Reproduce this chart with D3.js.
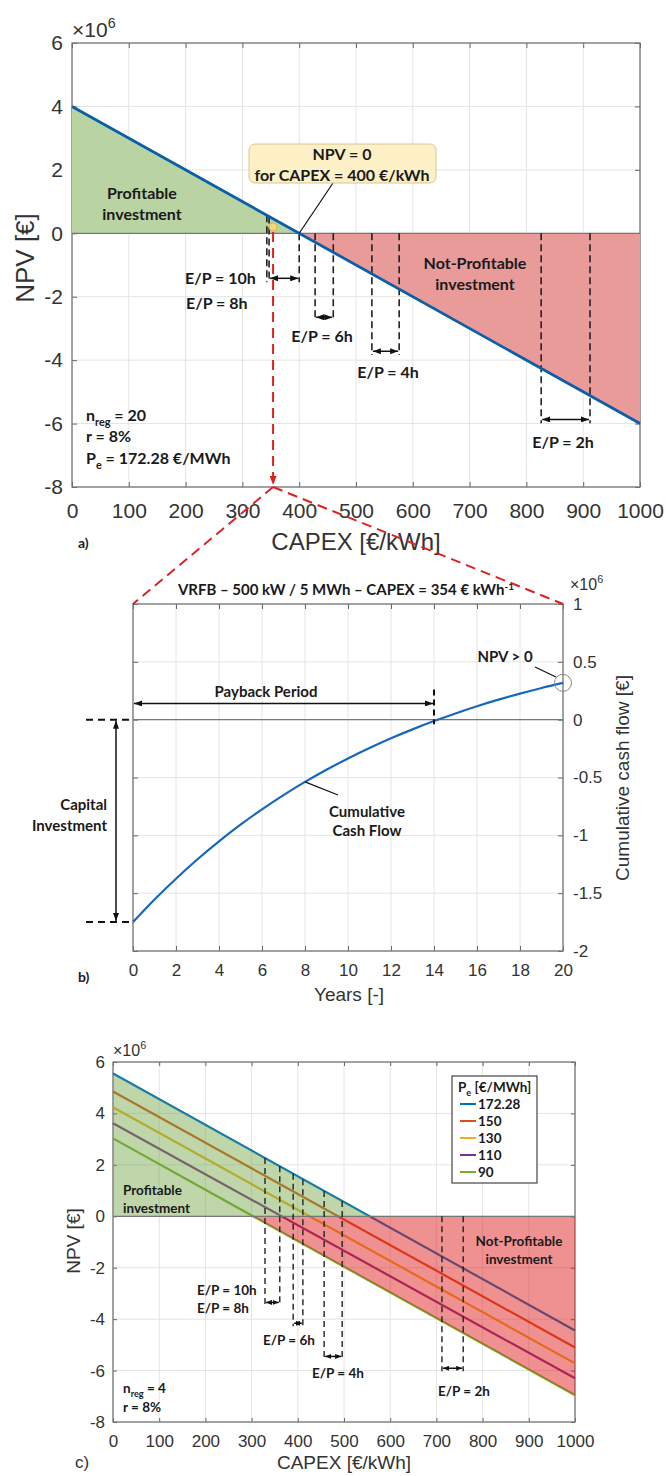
<!DOCTYPE html>
<html>
<head>
<meta charset="utf-8">
<script src="https://cdn.jsdelivr.net/npm/d3@7"></script>
<style>
  body { margin: 0; background: #fff; }
  svg { display: block; }
  .note { font-family: Lato, "Open Sans", sans-serif; font-weight: 700; fill: #1a1a1a; }
  .lab { font-family: "Liberation Sans", Arial, sans-serif; fill: #333; }
</style>
</head>
<body>
<svg id="fig" width="666" height="1476"></svg>
<script>
// ---- panel a: NPV vs CAPEX (x10^6 €)
const capexA = [0, 1000];
const npvA = [4, -6];
const capexTicks = [0, 100, 200, 300, 400, 500, 600, 700, 800, 900, 1000];
const npvTicks = [-8, -6, -4, -2, 0, 2, 4, 6];
const epLinesA = [343, 347, 400, 428, 460, 528, 576, 826, 912];
const epArrowsA = [[347, 400, -1.42], [428, 460, -2.65], [528, 576, -3.72], [826, 912, -5.87]];
const capexVRFB = 354;
const npvMarker = 0.2;

// ---- panel b: cumulative cash flow (x10^6 €)
const years = [0, 1, 2, 3, 4, 5, 6, 7, 8, 9, 10, 11, 12, 13, 14, 15, 16, 17, 18, 19, 20];
const cashFlow = [-1.75, -1.555, -1.375, -1.207, -1.052, -0.908, -0.775, -0.652, -0.538, -0.433, -0.335,
                  -0.245, -0.161, -0.084, -0.012, 0.054, 0.116, 0.173, 0.225, 0.274, 0.318];
const yearTicks = [0, 2, 4, 6, 8, 10, 12, 14, 16, 18, 20];
const cashTicks = [-2, -1.5, -1, -0.5, 0, 0.5, 1];
const paybackYear = 14;
const paybackLevel = 0.14;

// ---- panel c: NPV vs CAPEX for several electricity prices
const prices = ["172.28", "150", "130", "110", "90"];
const priceColors = ["#0072BD", "#D95319", "#EDB120", "#7E2F8E", "#77AC30"];
const npvAt0 = [5.55, 4.85, 4.24, 3.62, 3.03];
const npvAt1000 = [-4.44, -5.10, -5.72, -6.30, -6.96];
const epLinesC = [329, 361, 390, 411, 457, 496, 712, 758];
const epArrowsC = [[329, 361, -3.35], [390, 411, -4.16], [457, 496, -5.45], [712, 758, -5.91]];

const svg = d3.select("#fig");
const defs = svg.append("defs");
function marker(id, color, w, h) {
  defs.append("marker").attr("id", id)
    .attr("markerUnits", "userSpaceOnUse")
    .attr("markerWidth", w).attr("markerHeight", h)
    .attr("refX", w).attr("refY", h / 2)
    .attr("orient", "auto-start-reverse")
    .append("path").attr("d", `M0,0L${w},${h / 2}L0,${h}Z`).attr("fill", color);
}
marker("arr", "#111", 8, 6);
marker("arrS", "#111", 6, 5);
marker("arrR", "#e0201e", 9, 7);

// grid, box and inward ticks in the MATLAB style
function frame(g, x, y, xt, yt, o) {
  const [xl, xr] = x.range();
  const [yb, yt0] = y.range();
  g.append("g").selectAll("line").data(xt).join("line")
    .attr("x1", d => x(d)).attr("x2", d => x(d)).attr("y1", yt0).attr("y2", yb)
    .attr("stroke", "#e4e4e4");
  g.append("g").selectAll("line").data(yt).join("line")
    .attr("x1", xl).attr("x2", xr).attr("y1", d => y(d)).attr("y2", d => y(d))
    .attr("stroke", "#e4e4e4");

  const fmt = d => String(d);
  const axes = [
    [d3.axisBottom(x).tickValues(xt).tickPadding(o.padX).tickFormat(fmt), `translate(0,${yb})`],
    [d3.axisTop(x).tickValues(xt).tickFormat(""), `translate(0,${yt0})`],
    [d3.axisLeft(y).tickValues(yt).tickPadding(o.padY).tickFormat(o.right ? "" : fmt), `translate(${xl},0)`],
    [d3.axisRight(y).tickValues(yt).tickPadding(o.padY).tickFormat(o.right ? fmt : ""), `translate(${xr},0)`]
  ];
  axes.forEach(([ax, tr]) => {
    const a = g.append("g").attr("transform", tr)
      .call(ax.tickSizeInner(-o.tick).tickSizeOuter(0));
    a.select(".domain").remove();
    a.selectAll(".tick line").attr("stroke", "#666");
    a.attr("font-family", "Liberation Sans, Arial, sans-serif").attr("font-size", o.fs);
    a.selectAll("text").attr("fill", "#333");
  });
  g.append("rect").attr("x", xl).attr("y", yt0).attr("width", xr - xl).attr("height", yb - yt0)
    .attr("fill", "none").attr("stroke", "#777").attr("stroke-width", 1.3);
}

function expo(g, x, y, fs) {
  const t = g.append("text").attr("class", "lab").attr("x", x).attr("y", y).attr("font-size", fs);
  t.append("tspan").text("\u00d710");
  t.append("tspan").attr("dy", -fs * 0.42).attr("font-size", fs * 0.68).text("6");
}

function note(g, x, y, str, fs, anchor) {
  return g.append("text").attr("class", "note").attr("x", x).attr("y", y)
    .attr("font-size", fs).attr("text-anchor", anchor || "middle").text(str);
}

function sub(g, x, y, main, s, rest, fs) {
  const t = g.append("text").attr("class", "note").attr("x", x).attr("y", y).attr("font-size", fs);
  t.append("tspan").text(main);
  t.append("tspan").attr("dy", fs * 0.3).attr("font-size", fs * 0.68).text(s);
  t.append("tspan").attr("dy", -fs * 0.3).text(rest);
}

// zero crossing of a straight NPV line
function crossing(c, v) { return d3.scaleLinear().domain(v).range(c)(0); }

// dashed E/P guides and arrows
function epMarks(g, x, y, lineAt, linesX, arrows, o) {
  const nearest = cx => {
    const a = arrows.find(r => r[0] === cx || r[1] === cx);
    if (a) return a[2] - o.extra;
    const b = arrows.reduce((p, r) => Math.abs(r[0] - cx) < Math.abs(p[0] - cx) ? r : p);
    return b[2] - o.extra;
  };
  g.append("g").selectAll("line").data(linesX).join("line")
    .attr("x1", d => x(d)).attr("x2", d => x(d))
    .attr("y1", d => y(Math.max(lineAt(d), 0)))
    .attr("y2", d => y(nearest(d)))
    .attr("stroke", "#222").attr("stroke-width", o.w).attr("stroke-dasharray", o.dash);
  g.append("g").selectAll("line").data(arrows).join("line")
    .attr("x1", d => x(d[0]) + 1).attr("x2", d => x(d[1]) - 1)
    .attr("y1", d => y(d[2])).attr("y2", d => y(d[2]))
    .attr("stroke", "#111").attr("stroke-width", 1.5)
    .attr("marker-start", `url(#${o.m})`).attr("marker-end", `url(#${o.m})`);
}

// ================= panel a
const xA = d3.scaleLinear().domain([0, 1000]).range([72, 640]);
const yA = d3.scaleLinear().domain([-8, 6]).range([487, 43]);
const gA = svg.append("g");
frame(gA, xA, yA, capexTicks, npvTicks, { padX: 16, padY: 9, tick: 5, fs: 21 });

const lineA = d3.scaleLinear().domain(capexA).range(npvA);
const zeroA = crossing(capexA, npvA);
const ptsA = [capexA[0], zeroA, capexA[1]];
gA.append("path").datum(ptsA)
  .attr("d", d3.area().x(d => xA(d)).y0(yA(0)).y1(d => yA(Math.max(lineA(d), 0))))
  .attr("fill", "#b9d3a2");
gA.append("path").datum(ptsA)
  .attr("d", d3.area().x(d => xA(d)).y0(yA(0)).y1(d => yA(Math.min(lineA(d), 0))))
  .attr("fill", "#e99b9a");
gA.append("line").attr("x1", xA(0)).attr("x2", xA(1000)).attr("y1", yA(0)).attr("y2", yA(0))
  .attr("stroke", "#777").attr("stroke-width", 1.3);

epMarks(gA, xA, yA, lineA, epLinesA, epArrowsA,
  { extra: 0.12, w: 1.6, dash: "7,4", m: "arr" });

gA.append("path").datum(capexA.map((c, i) => [c, npvA[i]]))
  .attr("d", d3.line().x(d => xA(d[0])).y(d => yA(d[1])))
  .attr("stroke", "#0b5fa8").attr("stroke-width", 2.8).attr("fill", "none");

// callout for NPV = 0
gA.append("line").attr("x1", xA(zeroA)).attr("y1", yA(0)).attr("x2", 333).attr("y2", 183)
  .attr("stroke", "#111").attr("stroke-width", 1.2);
gA.append("rect").attr("x", 249).attr("y", 144).attr("width", 187).attr("height", 39).attr("rx", 6)
  .attr("fill", "#fdefc6").attr("stroke", "#dcc48e").attr("stroke-width", 1);
note(gA, 342, 160, "NPV = 0", 16);
note(gA, 342, 181, "for CAPEX = 400 \u20ac/kWh", 16);

note(gA, 142, 199, "Profitable", 16);
note(gA, 142, 220, "investment", 16);
note(gA, 475, 269, "Not-Profitable", 16);
note(gA, 475, 290, "investment", 16);
note(gA, 185, 284, "E/P = 10h", 16, "start");
note(gA, 186, 309, "E/P = 8h", 16, "start");
note(gA, 322, 342, "E/P = 6h", 16);
note(gA, 388, 378, "E/P = 4h", 16);
note(gA, 563, 448, "E/P = 2h", 16);
sub(gA, 86, 421, "n", "reg", " = 20", 16);
note(gA, 86, 442, "r = 8%", 16, "start");
sub(gA, 86, 464, "P", "e", " = 172.28 \u20ac/MWh", 16);

expo(gA, 72, 37, 21);
gA.append("text").attr("class", "lab").attr("transform", "translate(34,258) rotate(-90)")
  .attr("text-anchor", "middle").attr("font-size", 26).text("NPV [\u20ac]");
gA.append("text").attr("class", "lab").attr("x", 356).attr("y", 550)
  .attr("text-anchor", "middle").attr("font-size", 24).text("CAPEX [\u20ac/kWh]");
note(gA, 78, 548, "a)", 14, "start");

// ================= panel b
const xB = d3.scaleLinear().domain([0, 20]).range([133, 563]);
const yB = d3.scaleLinear().domain([-2, 1]).range([951, 604]);
const gB = svg.append("g");
frame(gB, xB, yB, yearTicks, cashTicks, { padX: 13, padY: 10, tick: 5, fs: 17, right: true });
gB.append("line").attr("x1", xB(0)).attr("x2", xB(20)).attr("y1", yB(0)).attr("y2", yB(0))
  .attr("stroke", "#777").attr("stroke-width", 1.3);

// red zoom connectors from panel a to panel b
const red = svg.append("g").attr("stroke", "#e0201e").attr("stroke-width", 2)
  .attr("fill", "none").attr("stroke-dasharray", "10,6");
red.append("line").attr("x1", xA(capexVRFB)).attr("y1", yA(npvMarker) + 5)
  .attr("x2", xA(capexVRFB)).attr("y2", yA(-8) - 2).attr("marker-end", "url(#arrR)");
red.append("line").attr("x1", xA(capexVRFB)).attr("y1", yA(-8))
  .attr("x2", xB(0)).attr("y2", yB(1));
red.append("line").attr("x1", xA(capexVRFB)).attr("y1", yA(-8))
  .attr("x2", xB(20)).attr("y2", yB(1));
gA.append("circle").attr("cx", xA(capexVRFB)).attr("cy", yA(npvMarker)).attr("r", 4)
  .attr("fill", "#f6d67c").attr("stroke", "#d8b45a");

gB.append("path").datum(years.map((t, i) => [t, cashFlow[i]]))
  .attr("d", d3.line().curve(d3.curveNatural).x(d => xB(d[0])).y(d => yB(d[1])))
  .attr("stroke", "#1767bf").attr("stroke-width", 2.2).attr("fill", "none");

// payback period
gB.append("line").attr("x1", xB(0) + 1).attr("x2", xB(paybackYear) - 1)
  .attr("y1", yB(paybackLevel)).attr("y2", yB(paybackLevel))
  .attr("stroke", "#111").attr("stroke-width", 1.5)
  .attr("marker-start", "url(#arr)").attr("marker-end", "url(#arr)");
gB.append("line").attr("x1", xB(paybackYear)).attr("x2", xB(paybackYear))
  .attr("y1", yB(0.26)).attr("y2", yB(-0.04))
  .attr("stroke", "#111").attr("stroke-width", 2).attr("stroke-dasharray", "6,4");
note(gB, 266, 697, "Payback Period", 15);

// capital investment
[0, cashFlow[0]].forEach(v => {
  gB.append("line").attr("x1", 86).attr("x2", xB(0)).attr("y1", yB(v)).attr("y2", yB(v))
    .attr("stroke", "#111").attr("stroke-width", 2).attr("stroke-dasharray", "7,5");
});
gB.append("line").attr("x1", 116).attr("x2", 116).attr("y1", yB(0) + 1).attr("y2", yB(cashFlow[0]) - 1)
  .attr("stroke", "#111").attr("stroke-width", 1.5)
  .attr("marker-start", "url(#arr)").attr("marker-end", "url(#arr)");
note(gB, 107, 810, "Capital", 15, "end");
note(gB, 107, 831, "Investment", 15, "end");

gB.append("line").attr("x1", xB(8)).attr("y1", yB(cashFlow[8])).attr("x2", 338).attr("y2", 795)
  .attr("stroke", "#111").attr("stroke-width", 1.2);
note(gB, 367, 817, "Cumulative", 15);
note(gB, 367, 836, "Cash Flow", 15);

gB.append("circle").attr("cx", xB(20)).attr("cy", yB(cashFlow[20])).attr("r", 8.5)
  .attr("fill", "none").attr("stroke", "#888").attr("stroke-width", 1);
gB.append("line").attr("x1", 535).attr("y1", 667).attr("x2", 556).attr("y2", 677)
  .attr("stroke", "#111").attr("stroke-width", 1.2);
note(gB, 505, 662, "NPV > 0", 15);

const title = gB.append("text").attr("class", "note").attr("x", 346).attr("y", 595)
  .attr("text-anchor", "middle").attr("font-size", 15);
title.append("tspan").text("VRFB \u2013 500 kW / 5 MWh \u2013 CAPEX = 354 \u20ac kWh");
title.append("tspan").attr("dy", -5).attr("font-size", 10).text("-1");

expo(gB, 570, 590, 16);
gB.append("text").attr("class", "lab").attr("transform", "translate(629,778) rotate(-90)")
  .attr("text-anchor", "middle").attr("font-size", 19).text("Cumulative cash flow [\u20ac]");
gB.append("text").attr("class", "lab").attr("x", 349).attr("y", 1001)
  .attr("text-anchor", "middle").attr("font-size", 19).text("Years [-]");
note(gB, 78, 982, "b)", 14, "start");

// ================= panel c
const xC = d3.scaleLinear().domain([0, 1000]).range([113, 575]);
const yC = d3.scaleLinear().domain([-8, 6]).range([1422, 1062]);
const gC = svg.append("g");
frame(gC, xC, yC, capexTicks, npvTicks, { padX: 13, padY: 8, tick: 4, fs: 17 });

const linesC = prices.map((p, i) => d3.scaleLinear().domain(capexA).range([npvAt0[i], npvAt1000[i]]));
linesC.forEach((f, i) => {
  gC.append("path").datum(capexA)
    .attr("d", d3.line().x(d => xC(d)).y(d => yC(f(d))))
    .attr("stroke", priceColors[i]).attr("stroke-width", 2.2).attr("fill", "none");
});
const topLine = linesC[0], botLine = linesC[linesC.length - 1];
const ptsTop = [0, crossing(capexA, [npvAt0[0], npvAt1000[0]]), 1000];
const ptsBot = [0, crossing(capexA, [npvAt0[4], npvAt1000[4]]), 1000];
gC.append("path").datum(ptsTop)
  .attr("d", d3.area().x(d => xC(d)).y0(yC(0)).y1(d => yC(Math.max(topLine(d), 0))))
  .attr("fill", "#6fa440").attr("fill-opacity", 0.45);
gC.append("path").datum(ptsBot)
  .attr("d", d3.area().x(d => xC(d)).y0(yC(0)).y1(d => yC(Math.min(botLine(d), 0))))
  .attr("fill", "#e01a1a").attr("fill-opacity", 0.48);
gC.append("line").attr("x1", xC(0)).attr("x2", xC(1000)).attr("y1", yC(0)).attr("y2", yC(0))
  .attr("stroke", "#777").attr("stroke-width", 1.3);

epMarks(gC, xC, yC, topLine, epLinesC, epArrowsC,
  { extra: 0.12, w: 1.4, dash: "6,4", m: "arrS" });

note(gC, 123, 1195, "Profitable", 13.5, "start");
note(gC, 123, 1213, "investment", 13.5, "start");
note(gC, 519, 1246, "Not-Profitable", 13.5);
note(gC, 519, 1264, "investment", 13.5);
note(gC, 197, 1295, "E/P = 10h", 13.5, "start");
note(gC, 197, 1313, "E/P = 8h", 13.5, "start");
note(gC, 263, 1345, "E/P = 6h", 13.5, "start");
note(gC, 312, 1378, "E/P = 4h", 13.5, "start");
note(gC, 438, 1396, "E/P = 2h", 13.5, "start");
sub(gC, 123, 1393, "n", "reg", " = 4", 13.5);
note(gC, 123, 1412, "r = 8%", 13.5, "start");

// legend
const lg = gC.append("g");
lg.append("rect").attr("x", 452).attr("y", 1076).attr("width", 85).attr("height", 107)
  .attr("fill", "#fff").attr("stroke", "#444").attr("stroke-width", 1.2);
sub(lg, 458, 1092, "P", "e", " [\u20ac/MWh]", 13.5);
prices.forEach((p, i) => {
  const yy = 1104 + i * 17;
  lg.append("line").attr("x1", 460).attr("x2", 476).attr("y1", yy).attr("y2", yy)
    .attr("stroke", priceColors[i]).attr("stroke-width", 2);
  note(lg, 478, yy + 5, p, 13.5, "start");
});

expo(gC, 113, 1056, 16);
gC.append("text").attr("class", "lab").attr("transform", "translate(80,1241) rotate(-90)")
  .attr("text-anchor", "middle").attr("font-size", 19).text("NPV [\u20ac]");
gC.append("text").attr("class", "lab").attr("x", 344).attr("y", 1469)
  .attr("text-anchor", "middle").attr("font-size", 19).text("CAPEX [\u20ac/kWh]");
gC.append("text").attr("class", "lab").attr("x", 75).attr("y", 1468)
  .attr("font-size", 17).text("c)");
</script>
</body>
</html>
